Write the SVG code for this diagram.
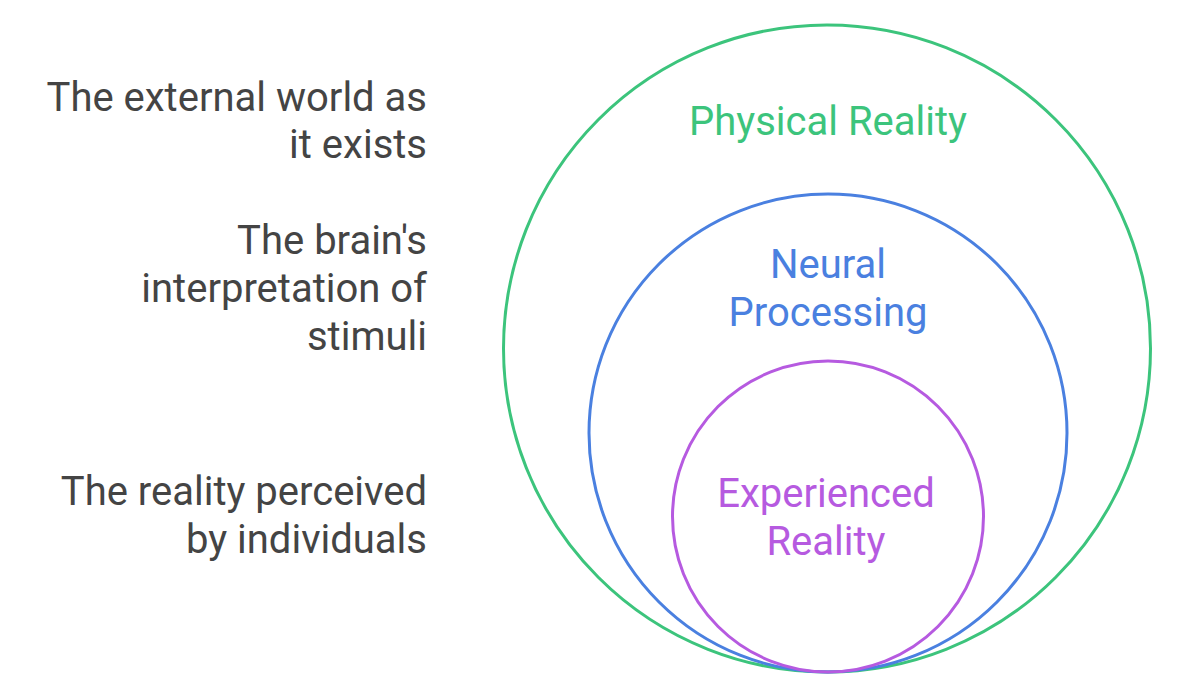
<svg xmlns="http://www.w3.org/2000/svg" width="1178" height="700" viewBox="0 0 1178 700">
<style>
text{font-family:Roboto,"Liberation Sans",sans-serif;font-size:40px}
.d{fill:#444444;text-anchor:end}
.c{text-anchor:middle}
.ring{fill:none;stroke-width:3}
</style>
<rect width="1178" height="700" fill="#ffffff"/>
<g id="physical">
<circle class="ring" cx="827" cy="348.5" r="323.5" stroke="#3cc47c"/>
<text class="c" x="828" y="135" fill="#3cc47c">Physical Reality</text>
</g>
<g id="neural">
<circle class="ring" cx="828" cy="433" r="239" stroke="#4a80e0"/>
<text class="c" x="828" y="278" fill="#4a80e0">Neural</text>
<text class="c" x="828" y="326" fill="#4a80e0">Processing</text>
</g>
<g id="experienced">
<circle class="ring" cx="828" cy="516.5" r="155.5" stroke="#b65ae0"/>
<text class="c" x="826" y="507" fill="#b65ae0">Experienced</text>
<text class="c" x="826" y="555" fill="#b65ae0">Reality</text>
</g>
<g id="desc-physical">
<text class="d" x="427" y="111">The external world as</text>
<text class="d" x="427" y="158">it exists</text>
</g>
<g id="desc-neural">
<text class="d" x="427" y="254">The brain's</text>
<text class="d" x="427" y="302">interpretation of</text>
<text class="d" x="427" y="350">stimuli</text>
</g>
<g id="desc-experienced">
<text class="d" x="427" y="505">The reality perceived</text>
<text class="d" x="427" y="553">by individuals</text>
</g>
<g id="connectors"/>
</svg>
